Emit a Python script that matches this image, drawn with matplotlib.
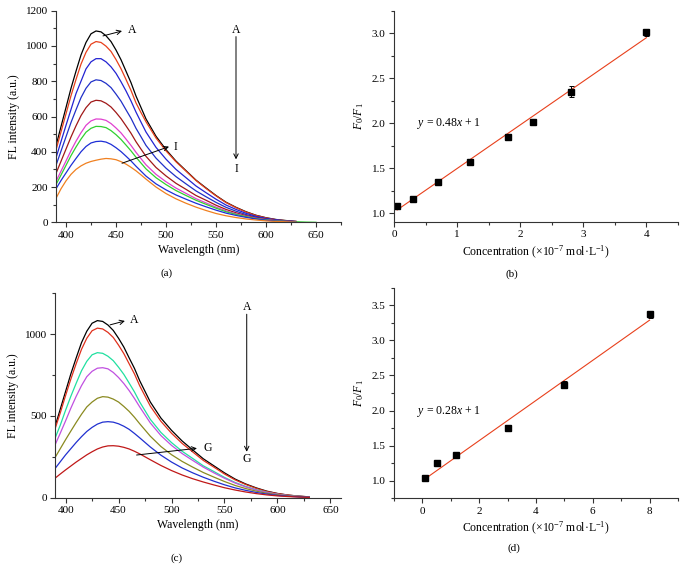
import matplotlib
matplotlib.use("Agg")
import matplotlib.pyplot as plt
from matplotlib.ticker import MultipleLocator, FormatStrFormatter

plt.rcParams['font.family'] = ['Liberation Serif', 'DejaVu Serif']
plt.rcParams['mathtext.fontset'] = 'custom'
plt.rcParams['mathtext.rm'] = 'Liberation Serif'
plt.rcParams['mathtext.it'] = 'Liberation Serif:italic'
plt.rcParams['font.size'] = 8

# ---------------- Panel (a) data ----------------
wl_a = [390, 395, 400, 405, 410, 415, 420, 425, 430, 435, 440, 445, 450, 455,
        460, 465, 470, 475, 480, 490, 500, 510, 520, 530, 540, 550, 560, 570,
        580, 590, 600, 610, 620, 630]
wl_a_long = wl_a + [640, 650]
a_A = [434, 543, 651, 760, 857, 949, 1020, 1069, 1085, 1080, 1058, 1025, 977, 922,
       857, 792, 716, 651, 586, 488, 412, 347, 293, 239, 195, 152, 114, 85,
       60, 40, 26, 16, 10, 5]
a_B = [410, 513, 615, 718, 810, 897, 964, 1010, 1025, 1020, 999, 969, 923, 871,
       810, 748, 677, 622, 570, 478, 405, 343, 290, 237, 192, 150, 112, 83,
       58, 39, 25, 15, 9, 5]
a_C = [365, 458, 550, 640, 730, 800, 870, 910, 928, 928, 910, 882, 845, 797,
       745, 688, 625, 568, 512, 425, 358, 300, 253, 206, 168, 131, 98, 73,
       51, 34, 22, 14, 8, 4]
a_D = [323, 404, 485, 566, 638, 707, 760, 796, 808, 804, 788, 764, 727, 687,
       638, 590, 533, 485, 436, 364, 307, 259, 218, 178, 145, 113, 85, 63,
       44, 30, 19, 12, 7, 4]
a_E = [277, 346, 415, 484, 547, 605, 650, 682, 692, 689, 675, 654, 623, 588,
       547, 505, 457, 415, 374, 311, 263, 221, 187, 152, 125, 97, 73, 54,
       38, 26, 17, 10, 6, 3]
a_F = [232, 290, 348, 407, 460, 508, 550, 575, 586, 585, 578, 560, 535, 507,
       472, 436, 397, 361, 326, 272, 230, 194, 164, 134, 110, 86, 65, 48,
       34, 23, 15, 9, 5, 3]
a_G = [214, 268, 323, 378, 427, 472, 511, 533, 544, 543, 537, 520, 497, 470,
       438, 405, 369, 336, 303, 253, 214, 180, 152, 125, 102, 80, 60, 45,
       32, 21, 14, 8, 5, 3, 1, 0]
a_H = [190, 237, 280, 323, 362, 400, 430, 450, 458, 460, 455, 442, 423, 401,
       375, 348, 318, 290, 262, 218, 184, 155, 131, 108, 88, 69, 52, 39,
       28, 19, 12, 7, 4, 2]
a_I = [136, 190, 235, 272, 300, 320, 335, 345, 352, 358, 362, 360, 355, 344,
       330, 312, 292, 269, 245, 200, 163, 133, 108, 86, 67, 50, 37, 27,
       19, 13, 8, 5, 3, 1]
colors_a = ['#000000', '#e8401c', '#2323d2', '#2030c8', '#a01818',
            '#e040d0', '#30d030', '#1d2ed6', '#f08020']

# ---------------- Panel (b) data ----------------
conc_b = [0.05, 0.3, 0.7, 1.2, 1.8, 2.2, 2.8, 4.0]
ratio_b = [1.08, 1.16, 1.34, 1.57, 1.85, 2.01, 2.35, 3.01]
err_b = [0.02, 0.02, 0.02, 0.035, 0.03, 0.03, 0.065, 0.04]
fit_b = (0.485, 1.01)   # slope, intercept of drawn line
fit_b_range = [0.05, 4.0]

# ---------------- Panel (c) data ----------------
wl_c = [390, 395, 400, 405, 410, 415, 420, 425, 430, 435, 440, 445, 450, 455,
        460, 465, 470, 475, 480, 490, 500, 510, 520, 530, 540, 550, 560, 570,
        580, 590, 600, 610, 620, 630]
c_A = [435, 542, 650, 758, 855, 948, 1018, 1067, 1083, 1078, 1056, 1023, 975, 921,
       855, 791, 715, 650, 585, 487, 412, 347, 292, 238, 195, 152, 114, 84,
       60, 40, 26, 16, 10, 5]
c_B = [420, 519, 625, 726, 820, 907, 975, 1021, 1037, 1032, 1011, 980, 933, 881,
       819, 757, 684, 622, 560, 467, 394, 332, 280, 228, 187, 145, 109, 81,
       57, 38, 25, 16, 9, 5]
c_C = [363, 444, 535, 621, 700, 776, 834, 874, 887, 883, 865, 838, 798, 754,
       701, 647, 585, 532, 479, 399, 337, 284, 240, 195, 160, 124, 93, 69,
       49, 33, 21, 13, 8, 4]
c_D = [322, 395, 470, 548, 620, 685, 740, 773, 792, 795, 788, 766, 735, 698,
       655, 607, 555, 506, 457, 380, 320, 270, 228, 187, 152, 119, 90, 66,
       47, 32, 21, 13, 8, 4]
c_E = [245, 300, 355, 408, 460, 510, 555, 585, 608, 618, 615, 603, 585, 558,
       528, 492, 452, 414, 376, 313, 263, 222, 187, 154, 126, 99, 75, 56,
       40, 27, 18, 11, 7, 4]
c_F = [178, 220, 262, 300, 338, 373, 405, 430, 450, 462, 465, 462, 452, 437,
       418, 393, 366, 338, 310, 260, 218, 182, 152, 125, 101, 79, 60, 45,
       32, 22, 14, 9, 5, 3]
c_G = [119, 145, 170, 194, 218, 240, 262, 281, 298, 310, 317, 318, 315, 308,
       298, 284, 268, 250, 232, 197, 166, 139, 116, 96, 78, 61, 47, 35,
       25, 17, 11, 7, 4, 2]
colors_c = ['#000000', '#e0301c', '#20e0a0', '#c050e0', '#8a8a20',
            '#2030d0', '#c01818']

# ---------------- Panel (d) data ----------------
conc_d = [0.1, 0.5, 1.2, 3.0, 5.0, 8.0]
ratio_d = [1.04, 1.25, 1.37, 1.75, 2.37, 3.37]
err_d = [0.02, 0.04, 0.02, 0.04, 0.05, 0.05]
fit_d = (0.286, 1.0)
fit_d_range = [0.1, 8.0]

W, H = 686, 570
fig = plt.figure(figsize=(W / 100, H / 100), dpi=100)


def px_axes(l, t, r, b):
    return fig.add_axes([l / W, 1 - b / H, (r - l) / W, (b - t) / H])


def style(ax):
    for s in ['top', 'right']:
        ax.spines[s].set_visible(False)
    for s in ['left', 'bottom']:
        ax.spines[s].set_linewidth(0.8)
        ax.spines[s].set_color('#333333')
    ax.tick_params(which='both', direction='out', width=0.8, colors='#333333',
                   labelcolor='black', labelsize=8)
    ax.tick_params(which='major', length=3.5, pad=2.5)
    ax.tick_params(which='minor', length=2.5)


LBL = 8.5

# (a)
ax1 = px_axes(56, 10.7, 341, 222.3)
curves_a = [a_A, a_B, a_C, a_D, a_E, a_F, a_G, a_H, a_I]
for ys, col in zip(curves_a, colors_a):
    xs = wl_a_long if len(ys) == len(wl_a_long) else wl_a
    ax1.plot(xs, ys, color=col, lw=0.9)
ax1.set_xlim(390, 675)
ax1.set_ylim(0, 1200)
ax1.xaxis.set_major_locator(MultipleLocator(50))
ax1.xaxis.set_minor_locator(MultipleLocator(25))
ax1.yaxis.set_major_locator(MultipleLocator(200))
ax1.yaxis.set_minor_locator(MultipleLocator(100))
style(ax1)
ax1.set_xlabel('Wavelength (nm)', fontsize=LBL, labelpad=3)
ax1.set_ylabel('FL intensity (a.u.)', fontsize=LBL, labelpad=4)
arr = dict(arrowstyle='->', color='black', lw=0.7, shrinkA=0, shrinkB=0)
ax1.annotate('', xy=(456, 1085), xytext=(437, 1057), arrowprops=arr)
ax1.text(462, 1090, 'A', fontsize=LBL, va='center', ha='left')
ax1.annotate('', xy=(503, 429), xytext=(456, 335), arrowprops=arr)
ax1.text(508, 429, 'I', fontsize=LBL, va='center', ha='left')
ax1.annotate('', xy=(570, 357), xytext=(570, 1053), arrowprops=arr)
ax1.text(570, 1092, 'A', fontsize=LBL, va='center', ha='center')
ax1.text(570, 300, 'I', fontsize=LBL, va='center', ha='center')

# (b)
ax2 = px_axes(394, 10.7, 678, 222)
xf = fit_b_range
ax2.plot(xf, [fit_b[0] * v + fit_b[1] for v in xf], color='#e8401c', lw=0.8)
ax2.errorbar(conc_b, ratio_b, yerr=err_b, fmt='s', color='black', ms=3.8,
             elinewidth=0.7, capsize=1.8, capthick=0.7)
ax2.set_xlim(0, 4.5)
ax2.set_ylim(0.9, 3.25)
ax2.xaxis.set_major_locator(MultipleLocator(1))
ax2.xaxis.set_minor_locator(MultipleLocator(0.5))
ax2.yaxis.set_major_locator(MultipleLocator(0.5))
ax2.yaxis.set_minor_locator(MultipleLocator(0.25))
ax2.yaxis.set_major_formatter(FormatStrFormatter('%.1f'))
style(ax2)
ax2.set_xlabel('Concentration (×10$^{-7}$ mol·L$^{-1}$)', fontsize=LBL, labelpad=3)
ax2.set_ylabel('$\\mathit{F}_0/\\mathit{F}_1$', fontsize=LBL, labelpad=4)
ax2.text(0.36, 2.0, '$y$ = 0.48$x$ + 1', fontsize=LBL, va='center', ha='left')

# (c)
ax3 = px_axes(55, 293.3, 341, 497.7)
curves_c = [c_A, c_B, c_C, c_D, c_E, c_F, c_G]
for ys, col in zip(curves_c, colors_c):
    ax3.plot(wl_c, ys, color=col, lw=0.9)
ax3.set_xlim(390, 660)
ax3.set_ylim(0, 1250)
ax3.xaxis.set_major_locator(MultipleLocator(50))
ax3.xaxis.set_minor_locator(MultipleLocator(25))
ax3.yaxis.set_major_locator(MultipleLocator(500))
ax3.yaxis.set_minor_locator(MultipleLocator(250))
style(ax3)
ax3.set_xlabel('Wavelength (nm)', fontsize=LBL, labelpad=3)
ax3.set_ylabel('FL intensity (a.u.)', fontsize=LBL, labelpad=4)
ax3.annotate('', xy=(456, 1081), xytext=(442, 1057), arrowprops=arr)
ax3.text(461, 1087, 'A', fontsize=LBL, va='center', ha='left')
ax3.annotate('', xy=(524, 302), xytext=(467, 261), arrowprops=arr)
ax3.text(530, 302, 'G', fontsize=LBL, va='center', ha='left')
ax3.annotate('', xy=(571, 281), xytext=(571, 1122), arrowprops=arr)
ax3.text(571, 1169, 'A', fontsize=LBL, va='center', ha='center')
ax3.text(571, 236, 'G', fontsize=LBL, va='center', ha='center')

# (d)
ax4 = px_axes(394, 287.7, 678, 498.3)
xf = fit_d_range
ax4.plot(xf, [fit_d[0] * v + fit_d[1] for v in xf], color='#e8401c', lw=0.8)
ax4.errorbar(conc_d, ratio_d, yerr=err_d, fmt='s', color='black', ms=3.8,
             elinewidth=0.7, capsize=1.8, capthick=0.7)
ax4.set_xlim(-1, 9)
ax4.set_ylim(0.75, 3.75)
ax4.xaxis.set_major_locator(MultipleLocator(2))
ax4.xaxis.set_minor_locator(MultipleLocator(1))
ax4.yaxis.set_major_locator(MultipleLocator(0.5))
ax4.yaxis.set_minor_locator(MultipleLocator(0.25))
ax4.yaxis.set_major_formatter(FormatStrFormatter('%.1f'))
style(ax4)
ax4.set_xlabel('Concentration (×10$^{-7}$ mol·L$^{-1}$)', fontsize=LBL, labelpad=3)
ax4.set_ylabel('$\\mathit{F}_0/\\mathit{F}_1$', fontsize=LBL, labelpad=4)
ax4.text(-0.18, 1.99, '$y$ = 0.28$x$ + 1', fontsize=LBL, va='center', ha='left')

# panel letters
fig.text(167 / W, 1 - 272.7 / H, '(a)', fontsize=8, ha='center', va='center')
fig.text(512 / W, 1 - 274 / H, '(b)', fontsize=8, ha='center', va='center')
fig.text(177 / W, 1 - 558.3 / H, '(c)', fontsize=8, ha='center', va='center')
fig.text(513.7 / W, 1 - 548.3 / H, '(d)', fontsize=8, ha='center', va='center')

fig.savefig('out.png', dpi=100)
